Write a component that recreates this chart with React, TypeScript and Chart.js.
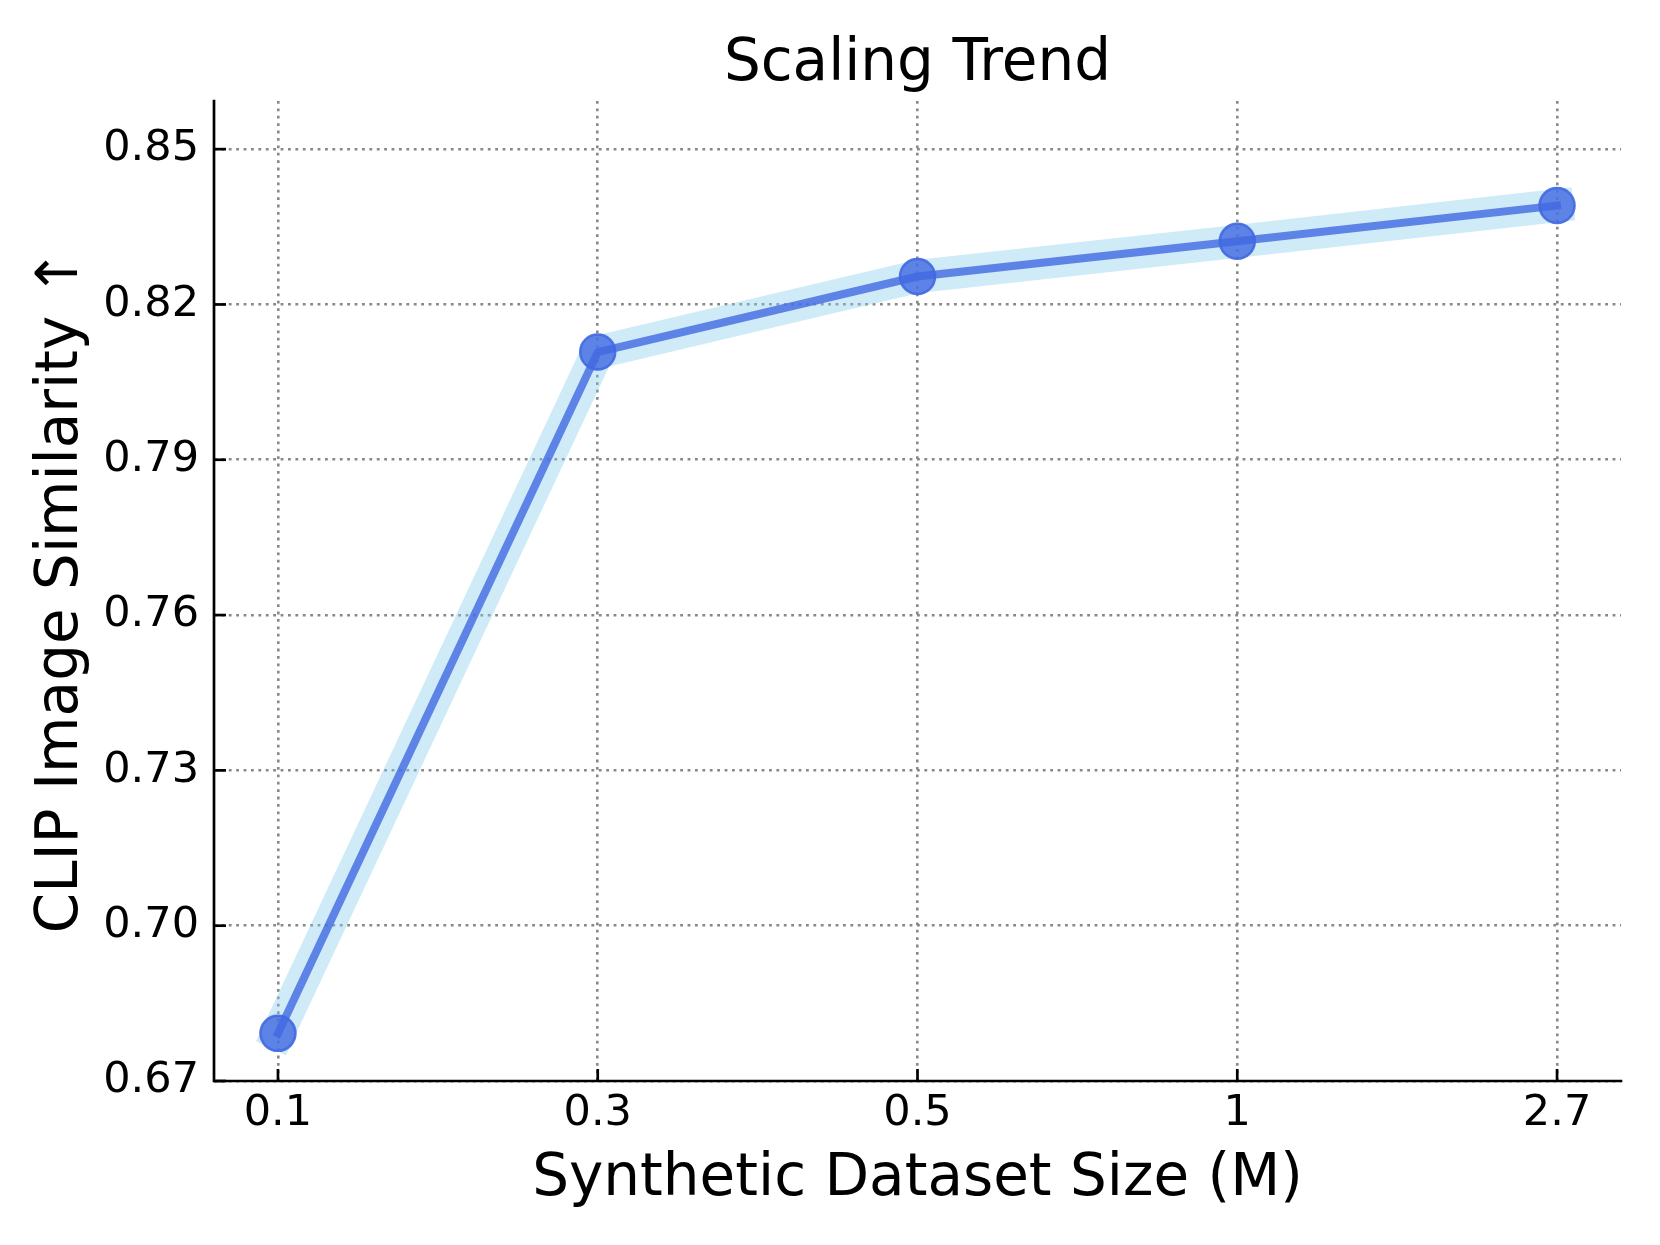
import React, { useEffect, useRef } from "react";
import { Chart, registerables } from "chart.js";

Chart.register(...registerables);

// ---- data ----
const xLabels = ["0.1", "0.3", "0.5", "1", "2.7"];
const clipScores = [0.6792, 0.8108, 0.8254, 0.8322, 0.8391];
const yTicks = [0.67, 0.7, 0.73, 0.76, 0.79, 0.82, 0.85];
const titleText = "Scaling Trend";
const xTitleText = "Synthetic Dataset Size (M)";
const yTitleText = "CLIP Image Similarity ↑";

const FONT = "'DejaVu Sans', 'Liberation Sans', sans-serif";

const spinesAndTicks = {
  id: "spinesAndTicks",
  afterDatasetsDraw(chart: any) {
    const { ctx, chartArea, scales } = chart;
    const tickLen = 12;
    ctx.save();
    ctx.strokeStyle = "#000";
    ctx.lineWidth = 2.7;
    ctx.lineCap = "butt";
    const xs = scales.x;
    xs.ticks.forEach((t: any) => {
      const px = xs.getPixelForValue(t.value);
      ctx.beginPath();
      ctx.moveTo(px, chartArea.bottom);
      ctx.lineTo(px, chartArea.bottom - tickLen);
      ctx.stroke();
    });
    const ys = scales.y;
    ys.ticks.forEach((t: any) => {
      const py = ys.getPixelForValue(t.value);
      ctx.beginPath();
      ctx.moveTo(chartArea.left, py);
      ctx.lineTo(chartArea.left + tickLen, py);
      ctx.stroke();
    });
    ctx.lineCap = "square";
    ctx.lineJoin = "miter";
    ctx.beginPath();
    ctx.moveTo(chartArea.left, chartArea.top);
    ctx.lineTo(chartArea.left, chartArea.bottom);
    ctx.lineTo(chartArea.right, chartArea.bottom);
    ctx.stroke();
    ctx.restore();
  },
};

export default function App() {
  const canvasRef = useRef<HTMLCanvasElement | null>(null);

  useEffect(() => {
    document.body.style.margin = "0";
    const canvas = canvasRef.current;
    if (!canvas) return;
    const points = clipScores.map((v, i) => ({ x: i, y: v }));
    const gridCommon = {
      color: "#888888",
      lineWidth: 2.6,
      drawTicks: false,
    };
    const chart = new Chart(canvas, {
      type: "line",
      data: {
        datasets: [
          {
            label: "CLIP",
            data: points,
            order: 1,
            borderColor: "rgba(65,105,225,0.8)",
            borderWidth: 8,
            borderCapStyle: "square",
            borderJoinStyle: "round",
            tension: 0,
            pointRadius: 17.5,
            pointBorderWidth: 2.5,
            pointBackgroundColor: "rgba(65,105,225,0.8)",
            pointBorderColor: "rgba(65,105,225,0.9)",
            pointHoverRadius: 17.5,
            fill: false,
          },
          {
            label: "band",
            data: points,
            order: 2,
            borderColor: "rgba(135,206,235,0.4)",
            borderWidth: 33,
            borderCapStyle: "square",
            borderJoinStyle: "round",
            tension: 0,
            pointRadius: 0,
            pointHoverRadius: 0,
            fill: false,
          },
        ],
      },
      options: {
        animation: false,
        responsive: false,
        devicePixelRatio: 1,
        events: [],
        layout: { padding: { top: 0, left: 0, right: 39, bottom: 0 } },
        plugins: {
          legend: { display: false },
          tooltip: { enabled: false },
          title: {
            display: true,
            text: titleText,
            fullSize: false,
            color: "#000",
            font: { family: FONT, size: 58, weight: "normal", lineHeight: 1 },
            padding: { top: 35.5, bottom: 7.5 },
          },
        },
        scales: {
          x: {
            type: "linear",
            min: -0.2,
            max: 4.2,
            bounds: "data",
            afterBuildTicks: (axis: any) => {
              axis.ticks = xLabels.map((_, i) => ({ value: i }));
            },
            afterFit: (s: any) => {
              s.height = 164;
            },
            grid: { ...gridCommon },
            border: { display: false, dash: [2.8, 4.6] },
            ticks: {
              color: "#000",
              padding: 11,
              maxRotation: 0,
              font: { family: FONT, size: 43, lineHeight: 1 },
              callback: (v: any) => xLabels[Math.round(Number(v))] ?? "",
            },
            title: {
              display: true,
              text: xTitleText,
              color: "#000",
              font: { family: FONT, size: 58, lineHeight: 1 },
              padding: { top: 0, bottom: 36.5 },
            },
          },
          y: {
            type: "linear",
            min: 0.67,
            max: 0.8593,
            bounds: "data",
            afterBuildTicks: (axis: any) => {
              axis.ticks = yTicks.map((v) => ({ value: v }));
            },
            afterFit: (s: any) => {
              s.width = 214;
            },
            grid: { ...gridCommon },
            border: { display: false, dash: [2.8, 4.6] },
            ticks: {
              color: "#000",
              padding: 15,
              font: { family: FONT, size: 43, lineHeight: 1 },
              callback: (v: any) => Number(v).toFixed(2),
            },
            title: {
              display: true,
              text: yTitleText,
              color: "#000",
              font: { family: FONT, size: 58, lineHeight: 1 },
              padding: { top: 33, bottom: 0 },
            },
          },
        },
      },
      plugins: [spinesAndTicks],
    } as any);
    return () => {
      chart.destroy();
    };
  }, []);

  return (
    <div style={{ width: 1660, height: 1245, background: "#fff" }}>
      <canvas ref={canvasRef} width={1660} height={1245} style={{ display: "block" }} />
    </div>
  );
}
